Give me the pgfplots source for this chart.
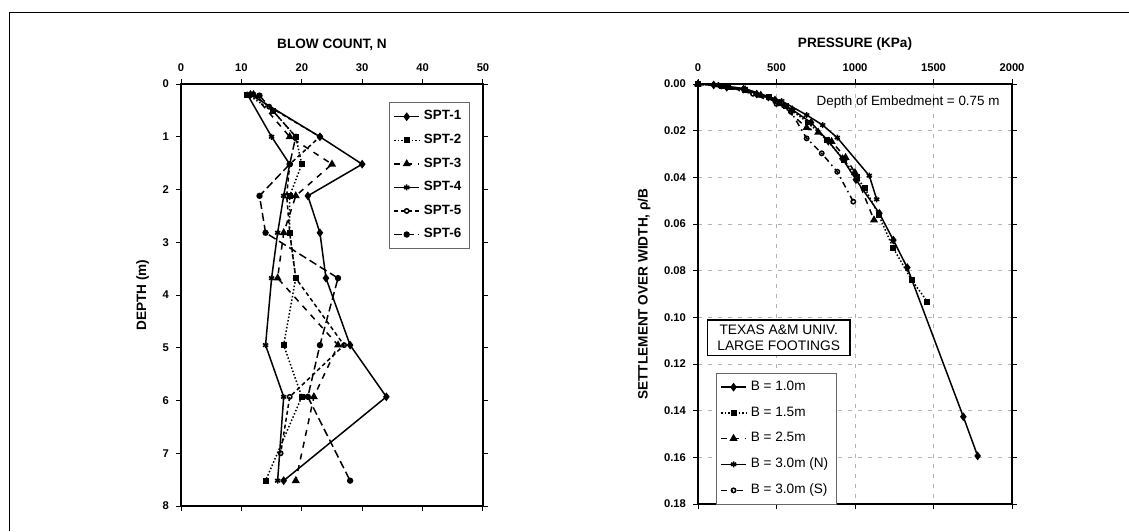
\documentclass[border=0pt]{standalone}
\usepackage{fontspec}
\setmainfont{Liberation Sans}
\usepackage{pgfplots}
\pgfplotsset{compat=1.18}
\usetikzlibrary{plotmarks}

\pgfplotsset{
  scan/.style={
    scale only axis, y dir=reverse,
    xticklabel pos=upper,
    axis line style={line width=1pt},
    tick align=outside, tick style={black, line width=0.5pt},
    major tick length=2.5pt,
    /pgf/number format/assume math mode=true,
    /pgf/number format/1000 sep={},
    tick label style={font=\fontsize{5.6}{6}\selectfont\bfseries},
    label style={font=\fontsize{6.8}{8}\selectfont\bfseries},
    legend cell align=left,
    legend image code/.code={\draw[mark repeat=2,mark phase=2]
      plot coordinates {(0pt,0pt) (6.25pt,0pt) (12.5pt,0pt)};},
  },
  every axis plot/.append style={black, line width=0.75pt},
}

\begin{document}
\begin{tikzpicture}[x=1pt,y=1pt]
\path[use as bounding box] (0,0) rectangle (564.5,265.5);
\draw[line width=0.8pt] (4.75,0) -- (4.75,259.3) -- (564.5,259.3);

% ---- blow count vs depth
\begin{axis}[scan,
  at={(90.5pt,12.5pt)}, anchor=south west, width=151pt, height=211pt,
  xmin=0, xmax=50, ymin=0, ymax=8,
  xtick={0,10,...,50}, ytick={0,1,...,8},
  xlabel={BLOW COUNT, N}, ylabel={DEPTH (m)},
  legend style={at={(0.689,0.957)}, anchor=north west,
    font=\fontsize{6.7}{7}\selectfont\bfseries, draw=black!60, thin,
    row sep=1.6pt, inner sep=2pt},
]
\addplot[solid, mark=diamond*, mark size=1.6pt] coordinates {
  (11.5,0.2) (23,1.0) (30,1.52) (21,2.12) (23,2.82) (24,3.68) (28,4.95) (34,5.93) (17,7.52)};
\addplot[densely dotted, mark=square*, mark size=1.1pt, mark options={solid}] coordinates {
  (11,0.2) (15.3,0.52) (19,1.0) (20,1.52) (18,2.12) (18,2.82) (19,3.68) (17,4.95) (20,5.93) (14,7.52)};
\addplot[dashed, mark=triangle*, mark size=1.6pt, mark options={solid}] coordinates {
  (12,0.2) (18,1.0) (25,1.52) (19,2.12) (17,2.82) (16,3.68) (26,4.95) (22,5.93) (19,7.52)};
\addplot[solid, mark=asterisk, mark size=1.5pt] coordinates {
  (11,0.2) (15,1.0) (18,1.52) (17,2.12) (16,2.82) (15,3.68) (14,4.95) (17,5.93) (16,7.52)};
\addplot[dash pattern=on 2pt off 1.5pt, mark=o, mark size=1.1pt, mark options={solid}] coordinates {
  (12,0.2) (14.6,0.43) (23,1.0) (18,1.52) (17.5,2.12) (18,2.82) (19,3.68) (27,4.95) (18,5.93) (16.5,7.0)};
\addplot[dash pattern=on 4pt off 2pt, mark=*, mark size=1.2pt, mark options={solid}] coordinates {
  (13,0.22) (19,1.0) (18,1.52) (13,2.12) (14,2.82) (26,3.68) (23,4.95) (21,5.93) (28,7.52)};
\legend{SPT-1,SPT-2,SPT-3,SPT-4,SPT-5,SPT-6}
\end{axis}

% ---- pressure vs settlement ratio
\begin{axis}[scan,
  at={(349pt,13.5pt)}, anchor=south west, width=157pt, height=210pt,
  xmin=0, xmax=2000, ymin=0, ymax=0.18,
  xtick={0,500,1000,1500,2000},
  ytick={0,0.02,0.04,0.06,0.08,0.10,0.12,0.14,0.16,0.18},
  scaled y ticks=false,
  yticklabel style={/pgf/number format/.cd, fixed, fixed zerofill, precision=2},
  grid=major, grid style={dash pattern=on 2pt off 3pt, gray!60, line width=0.3pt},
  xlabel={PRESSURE (KPa)}, ylabel={SETTLEMENT OVER WIDTH, ρ/B},
  legend style={at={(0.057,0.313)}, anchor=north west,
    font=\fontsize{6.8}{7}\selectfont, draw=black!60, thin, fill=white,
    row sep=2.6pt, inner sep=2pt},
]
\addplot[solid, mark=diamond*, mark size=1.6pt] coordinates {
  (0,0) (100,0.0004) (183,0.0014) (289,0.0022) (374,0.0043) (490,0.0069) (600,0.011)
  (720,0.0165) (830,0.0245) (920,0.032) (1006,0.041) (1155,0.0554) (1244,0.0669)
  (1333,0.0787) (1690,0.1426) (1781,0.1594)};
\addplot[densely dotted, mark=square*, mark size=1.1pt, mark options={solid}] coordinates {
  (0,0) (150,0.001) (300,0.0025) (450,0.0055) (560,0.0095) (700,0.0165) (820,0.024)
  (930,0.0325) (1010,0.040) (1064,0.0447) (1150,0.056) (1244,0.0704) (1361,0.084) (1461,0.0933)};
\addplot[dashed, mark=triangle*, mark size=1.6pt, mark options={solid}] coordinates {
  (0,0) (200,0.0015) (400,0.0048) (520,0.0085) (692,0.0187) (766,0.0207) (851,0.0247)
  (940,0.0315) (1000,0.038) (1121,0.0583)};
\addplot[solid, mark=asterisk, mark size=1.5pt] coordinates {
  (0,0) (130,0.0005) (300,0.002) (533,0.0073) (692,0.0133) (794,0.0176) (887,0.023)
  (1091,0.0393) (1138,0.0494)};
\addplot[dash dot, mark=o, mark size=1.1pt, mark options={solid}] coordinates {
  (0,0) (150,0.001) (350,0.0042) (500,0.0085) (592,0.0119) (692,0.0233) (788,0.0297)
  (887,0.0376) (989,0.0504)};
\legend{B = 1.0m, B = 1.5m, B = 2.5m, B = 3.0m (N), B = 3.0m (S)}
\node[font=\fontsize{6.7}{7}\selectfont] at (axis cs:1338,0.0076) {Depth of Embedment = 0.75 m};
\node[draw, fill=white, line width=0.6pt, align=center, inner xsep=5pt, inner ysep=2.5pt,
  font=\fontsize{6.9}{8}\selectfont] at (axis cs:514,0.1088) {TEXAS A\&M UNIV.\\LARGE FOOTINGS};
\end{axis}
\end{tikzpicture}
\end{document}
